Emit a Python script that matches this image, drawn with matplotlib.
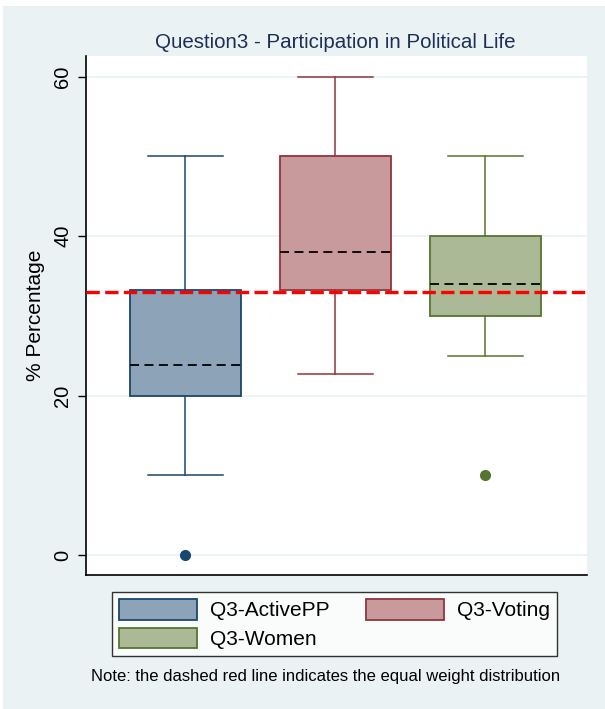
import matplotlib
matplotlib.use("Agg")
import matplotlib.pyplot as plt
from matplotlib.patches import Rectangle, Patch

plt.rcParams['font.family'] = ['Liberation Sans', 'DejaVu Sans']

groups = ["Q3-ActivePP", "Q3-Voting", "Q3-Women"]
whislo = [10, 22.7, 25]
q1 = [20, 33.3, 30]
med = [23.8, 38.0, 34.0]
q3 = [33.3, 50, 40]
whishi = [50, 60, 50]
outliers = [[0], [], [10]]
equal_weight = 33

fills = ["#8DA3B7", "#C89A9C", "#ABB996"]
edges = ["#1A476F", "#90353B", "#55752F"]

fig = plt.figure(figsize=(6.05, 7.09), dpi=100)
fig.patch.set_facecolor("white")
fig.patches.append(Rectangle((3/605, 0), 1, 1 - 6/709, transform=fig.transFigure,
                             facecolor="#EAF2F3", edgecolor="none", zorder=-10))

ax = fig.add_axes([86/605, 1 - 575/709, (587 - 86)/605, (575 - 56)/709])
ax.set_facecolor("white")

for i in range(3):
    stats = [dict(whislo=whislo[i], q1=q1[i], med=med[i], q3=q3[i], whishi=whishi[i],
                  fliers=outliers[i], label=groups[i])]
    ax.bxp(stats, positions=[i + 1], widths=0.74, capwidths=0.5, patch_artist=True,
           showfliers=True,
           boxprops=dict(facecolor=fills[i], edgecolor=edges[i], linewidth=1.3),
           whiskerprops=dict(color=edges[i], linewidth=1.1),
           capprops=dict(color=edges[i], linewidth=1.1),
           medianprops=dict(color="black", linestyle=(0, (5, 3)), linewidth=1.3),
           flierprops=dict(marker="o", markerfacecolor=edges[i], markeredgecolor=edges[i],
                           markersize=7))

ax.axhline(equal_weight, color="#FF0000", linestyle=(0, (4, 1.6)), linewidth=2.4, zorder=5)

ax.set_xlim(0.34, 3.68)
ax.set_ylim(-2.5, 62.6)
ax.set_xticks([])
ax.set_yticks([0, 20, 40, 60])
ax.set_yticklabels(["0", "20", "40", "60"], rotation=90, va="center", fontsize=14.5)
ax.yaxis.grid(True, color="#EAF2F3", linewidth=1.2)
ax.set_axisbelow(True)
ax.tick_params(axis="y", length=6, width=1, pad=4)
for s in ["top", "right"]:
    ax.spines[s].set_visible(False)
ax.spines["left"].set_linewidth(1.2)
ax.spines["bottom"].set_linewidth(1.2)
ax.set_ylabel("% Percentage", fontsize=15, labelpad=6)

fig.text(335 / 605, 1 - 42 / 709, "Question3 - Participation in Political Life",
         ha="center", va="center", fontsize=14.8, color="#1E2F55")

order = [0, 2, 1]
handles = [Patch(facecolor=fills[i], edgecolor=edges[i], linewidth=1.3) for i in order]
labels = [groups[i] for i in order]
leg = fig.legend(handles, labels, loc="center", ncol=2,
                 bbox_to_anchor=(334.5/605, 1 - 624/709), fontsize=15, frameon=True,
                 fancybox=False, edgecolor="black", handlelength=3.75, handleheight=1.15,
                 handletextpad=0.63, columnspacing=1.7, borderpad=0.35, labelspacing=0.35,
                 borderaxespad=0)
leg.get_frame().set_linewidth(1.0)

fig.text(326/605, 1 - 676/709, "Note: the dashed red line indicates the equal weight distribution",
         ha="center", va="center", fontsize=12, color="black")

fig.savefig("out.png", dpi=100)
